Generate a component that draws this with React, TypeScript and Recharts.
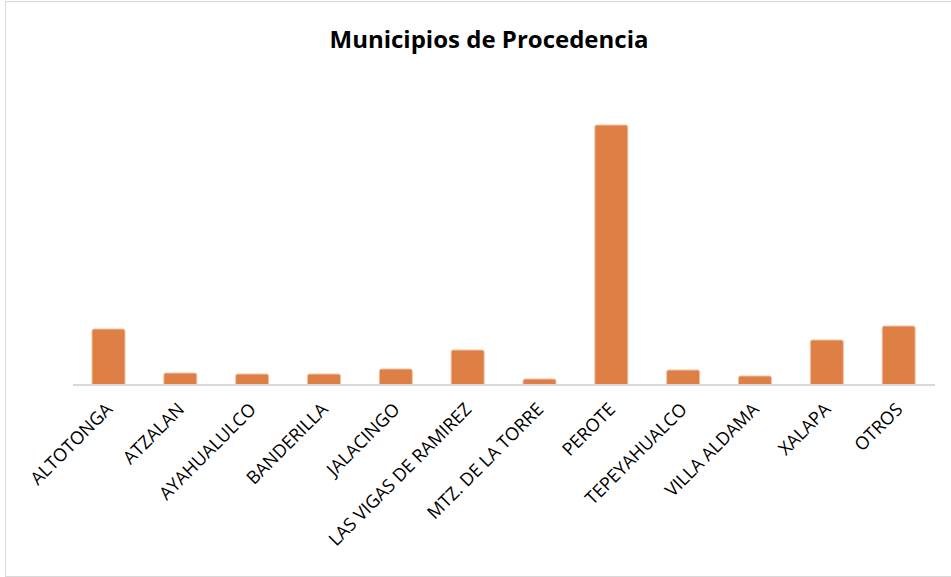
import { Bar, BarChart, XAxis, YAxis } from "recharts";

const municipios = [
  "ALTOTONGA",
  "ATZALAN",
  "AYAHUALULCO",
  "BANDERILLA",
  "JALACINGO",
  "LAS VIGAS DE RAMIREZ",
  "MTZ. DE LA TORRE",
  "PEROTE",
  "TEPEYAHUALCO",
  "VILLA ALDAMA",
  "XALAPA",
  "OTROS",
];

// (no value axis in the original)
const pacientes = [56, 12, 11, 11, 16, 35, 6, 260, 15, 9, 45, 59];

const chartData = municipios.map((name, i) => ({ name, value: pacientes[i] }));

function AngledTick({ x, y, payload }: any) {
  return (
    <g transform={`translate(${x + 1},${y + 14})`}>
      <text
        transform="rotate(-45)"
        textAnchor="end"
        dy={5}
        fontSize={18}
        fontFamily="'Open Sans', sans-serif"
        fill="#000"
      >
        {payload.value}
      </text>
    </g>
  );
}

export default function App() {
  return (
    <div
      style={{
        position: "fixed",
        left: 5,
        top: 1,
        width: 960,
        height: 574,
        border: "1.5px solid #d9d9d9",
        background: "#fff",
      }}
    >
      <div
        style={{
          position: "absolute",
          left: 3,
          width: 960,
          top: 20,
          textAlign: "center",
          fontFamily: "'Open Sans', sans-serif",
          fontWeight: 700,
          fontSize: 24,
          color: "#000",
        }}
      >
        Municipios de Procedencia
      </div>
      <div style={{ position: "absolute", left: 0, top: 0 }}>
        <BarChart
          width={945}
          height={574}
          data={chartData}
          margin={{ top: 123, right: 16, left: 67, bottom: 0 }}
        >
          <XAxis
            dataKey="name"
            interval={0}
            tickLine={false}
            axisLine={{ stroke: "#d9d9d9", strokeWidth: 2 }}
            tick={<AngledTick />}
            height={191}
          />
          <YAxis hide domain={[0, 260]} />
          <Bar
            dataKey="value"
            fill="#DE7F46"
            stroke="#f2c2a3"
            strokeWidth={1}
            barSize={33}
            radius={[2, 2, 0, 0]}
            isAnimationActive={false}
          />
        </BarChart>
      </div>
    </div>
  );
}
